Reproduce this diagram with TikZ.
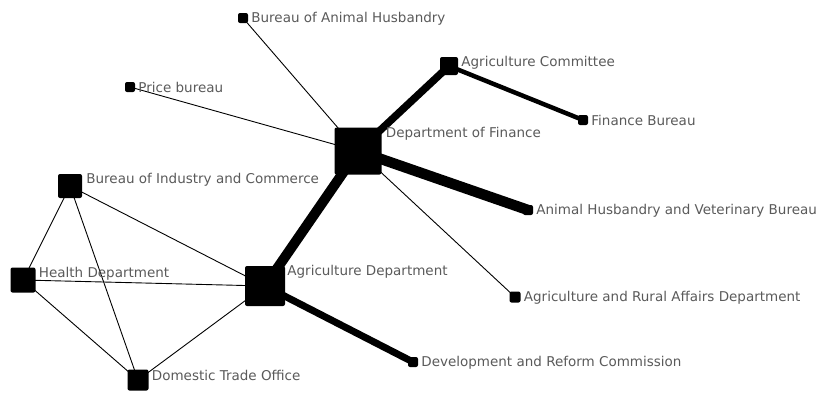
\documentclass[tikz,border=0pt]{standalone}
\usepackage{fontspec}
\setmainfont{DejaVu Sans}
\usetikzlibrary{backgrounds}
\definecolor{lblgray}{HTML}{5A5A5A}
\tikzset{
  box/.style={fill=black, draw=none, rounded corners=2pt, inner sep=0pt, minimum size=#1},
  lbl/.style={anchor=west, text=lblgray, inner sep=0pt, font=\fontsize{13.5}{14}\selectfont},
  thin edge/.style={line width=0.9pt},
  edge/.style={line width=#1}
}
\begin{document}
\begin{tikzpicture}[x=1pt,y=-1pt]
\useasboundingbox (0,0) rectangle (824,392);
% nodes
\node[box=10pt] (bah) at (243,18) {};
\node[box=10pt] (pb) at (130,87) {};
\node[box=18pt] (ac) at (449,66) {};
\node[box=10pt] (fb) at (583,120) {};
\node[box=47pt] (df) at (358,151) {};
\node[box=10pt] (ahvb) at (528,210) {};
\node[box=11pt] (ara) at (515,297) {};
\node[box=10pt] (drc) at (413,362) {};
\node[box=40pt] (ad) at (265,286) {};
\node[box=24pt] (bic) at (70,186) {};
\node[box=25pt] (hd) at (23,280) {};
\node[box=21pt] (dto) at (138,380) {};
% labels
\node[lbl] (bah-l) at ([shift={(3pt,-6pt)}]bah.north east) {Bureau of Animal Husbandry};
\node[lbl] (pb-l) at ([shift={(3pt,-6pt)}]pb.north east) {Price bureau};
\node[lbl] (ac-l) at ([shift={(3pt,-6pt)}]ac.north east) {Agriculture Committee};
\node[lbl] (fb-l) at ([shift={(3pt,-6pt)}]fb.north east) {Finance Bureau};
\node[lbl] (df-l) at ([shift={(4pt,-6pt)}]df.north east) {Department of Finance};
\node[lbl] (ahvb-l) at ([shift={(3pt,-6pt)}]ahvb.north east) {Animal Husbandry and Veterinary Bureau};
\node[lbl] (ara-l) at ([shift={(3pt,-6pt)}]ara.north east) {Agriculture and Rural Affairs Department};
\node[lbl] (drc-l) at ([shift={(3pt,-6pt)}]drc.north east) {Development and Reform Commission};
\node[lbl] (ad-l) at ([shift={(2pt,-6pt)}]ad.north east) {Agriculture Department};
\node[lbl] (bic-l) at ([shift={(4pt,-6pt)}]bic.north east) {Bureau of Industry and Commerce};
\node[lbl] (hd-l) at ([shift={(3pt,-6pt)}]hd.north east) {Health Department};
\node[lbl] (dto-l) at ([shift={(3pt,-6pt)}]dto.north east) {Domestic Trade Office};
% edges
\begin{scope}[on background layer]
\draw[thin edge] (bah.center) -- (df.center);
\draw[thin edge] (pb.center) -- (df.center);
\draw[edge=7.5pt] (df.center) -- (ac.center);
\draw[edge=4.5pt] (ac.center) -- (fb.center);
\draw[edge=10.5pt] (df.center) -- (ahvb.center);
\draw[thin edge] (df.center) -- (ara.center);
\draw[edge=10pt] (df.center) -- (ad.center);
\draw[edge=7pt] (ad.center) -- (drc.center);
\draw[thin edge] (ad.center) -- (bic.center);
\draw[thin edge] (ad.center) -- (hd.center);
\draw[thin edge] (ad.center) -- (dto.center);
\draw[thin edge] (bic.center) -- (hd.center);
\draw[thin edge] (bic.center) -- (dto.center);
\draw[thin edge] (hd.center) -- (dto.center);
\end{scope}
\end{tikzpicture}
\end{document}
